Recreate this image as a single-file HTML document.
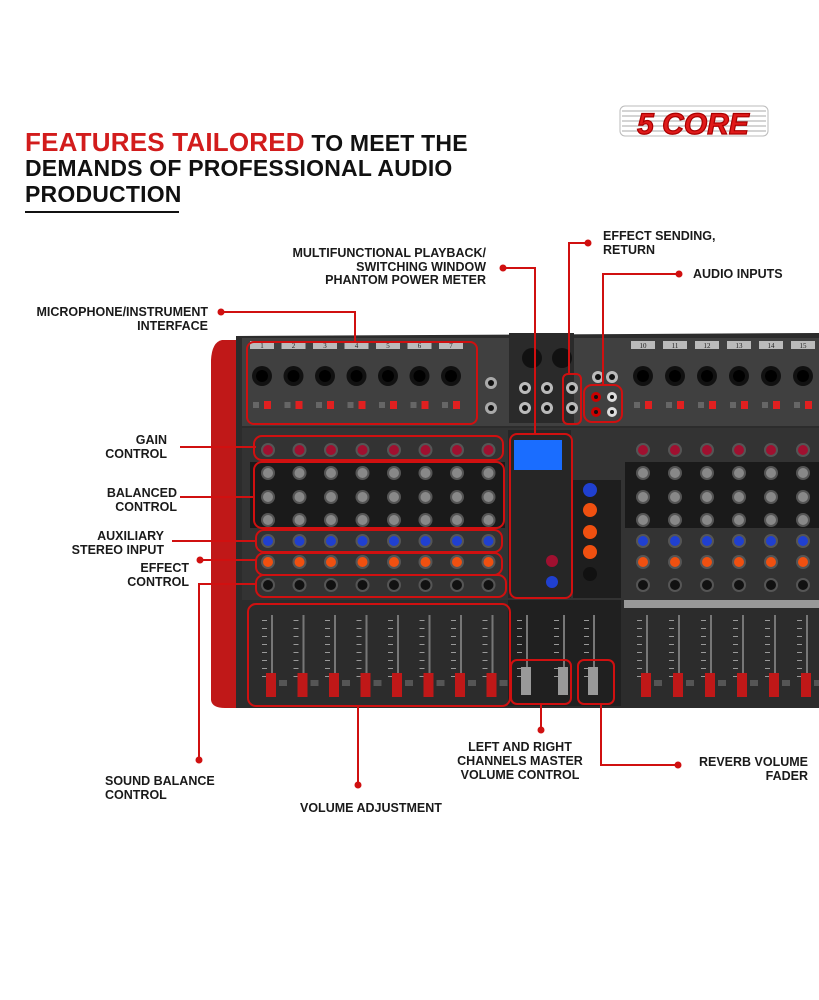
<!DOCTYPE html>
<html><head><meta charset="utf-8">
<style>
html,body{margin:0;padding:0;background:#fff}
#w{position:relative;width:819px;height:1000px;overflow:hidden;font-family:"Liberation Sans",sans-serif}
.h{position:absolute;left:25px;font-weight:bold;font-size:23px;line-height:26px;color:#111;white-space:nowrap;letter-spacing:0.2px}
.r{color:#d21c1c;font-size:26px;font-weight:900}
.l{position:absolute;font-weight:bold;font-size:12.5px;line-height:14px;color:#1a1a1a;white-space:nowrap}
.ra{text-align:right}
svg{position:absolute;left:0;top:0}
</style></head><body><div id="w">
<div class="h" style="top:129px"><span class="r">FEATURES TAILORED</span> TO MEET THE</div>
<div class="h" style="top:155px">DEMANDS OF PROFESSIONAL AUDIO</div>
<div class="h" style="top:181px">PRODUCTION</div>
<div style="position:absolute;left:25px;top:211px;width:154px;height:2px;background:#111"></div>

<svg width="819" height="1000" id="s" xmlns="http://www.w3.org/2000/svg">
<g id="logo">
<rect x="620" y="106" width="148" height="30" rx="5" fill="#fff" stroke="#bbb"/>
<g stroke="#aaa" stroke-width="1"><line x1="622" y1="111" x2="766" y2="111"/><line x1="622" y1="116" x2="766" y2="116"/><line x1="622" y1="121" x2="766" y2="121"/><line x1="622" y1="126" x2="766" y2="126"/><line x1="622" y1="131" x2="766" y2="131"/></g>
<text x="693" y="134" text-anchor="middle" font-family="Liberation Sans" font-weight="900" font-style="italic" font-size="30" fill="#e01a1a" stroke="#a00" stroke-width="1.2" style="font-weight:bold">5 CORE</text>
</g>
<path d="M222 340 Q212 342 211 360 L211 700 Q212 708 225 708 L240 708 L240 340 Z" fill="#c01818"/>
<path d="M236 336 L819 333 L819 708 L236 708 Z" fill="#2c2c2c"/>
<rect x="242" y="338" width="577" height="88" fill="#404040"/>
<rect x="242" y="428" width="577" height="172" fill="#333"/>
<rect x="250" y="462" width="255" height="66" fill="#1a1a1a"/>
<rect x="625" y="462" width="194" height="66" fill="#1a1a1a"/>
<rect x="508" y="430" width="63" height="168" fill="#262626"/>
<rect x="573" y="480" width="48" height="118" fill="#1e1e1e"/>
<rect x="508" y="600" width="113" height="106" fill="#202020"/>
<rect x="514" y="440" width="48" height="30" fill="#1a6dff"/>
<rect x="509" y="333" width="65" height="90" fill="#2a2a2a"/>
<g id="dyn"></g>
<g fill="none" stroke="#d01010" stroke-width="2">
<rect x="247" y="342" width="230" height="82" rx="7"/>
<rect x="254" y="436" width="249" height="24" rx="8"/>
<rect x="254" y="462" width="250" height="66" rx="8"/>
<rect x="256" y="530" width="246" height="22" rx="8"/>
<rect x="256" y="553" width="246" height="22" rx="8"/>
<rect x="256" y="575" width="250" height="22" rx="8"/>
<rect x="248" y="604" width="262" height="102" rx="8"/>
<rect x="510" y="434" width="62" height="164" rx="7"/>
<rect x="563" y="374" width="18" height="50" rx="5"/>
<rect x="584" y="385" width="38" height="37" rx="8"/>
<rect x="511" y="660" width="60" height="44" rx="6"/>
<rect x="578" y="660" width="36" height="44" rx="6"/>
</g>
<g stroke="#d01010" stroke-width="2" fill="none">
<polyline points="221,312 355,312 355,342"/>
<line x1="180" y1="447" x2="256" y2="447"/>
<line x1="180" y1="497" x2="254" y2="497"/>
<line x1="172" y1="541" x2="256" y2="541"/>
<line x1="200" y1="560" x2="256" y2="560"/>
<polyline points="256,584 199,584 199,760"/>
<line x1="358" y1="706" x2="358" y2="785"/>
<line x1="541" y1="704" x2="541" y2="730"/>
<polyline points="601,704 601,765 678,765"/>
<polyline points="503,268 535,268 535,434"/>
<polyline points="588,243 569,243 569,374"/>
<polyline points="679,274 603,274 603,385"/>
</g>
<g fill="#d01010">
<circle cx="221" cy="312" r="3.5"/><circle cx="200" cy="560" r="3.5"/><circle cx="199" cy="760" r="3.5"/>
<circle cx="358" cy="785" r="3.5"/><circle cx="541" cy="730" r="3.5"/><circle cx="678" cy="765" r="3.5"/>
<circle cx="503" cy="268" r="3.5"/><circle cx="588" cy="243" r="3.5"/><circle cx="679" cy="274" r="3.5"/>
</g>
</svg>

<div class="l ra" style="right:611px;top:305px">MICROPHONE/INSTRUMENT<br>INTERFACE</div>
<div class="l ra" style="right:652px;top:433px">GAIN<br>CONTROL</div>
<div class="l ra" style="right:642px;top:486px">BALANCED<br>CONTROL</div>
<div class="l ra" style="right:655px;top:529px">AUXILIARY<br>STEREO INPUT</div>
<div class="l ra" style="right:630px;top:561px">EFFECT<br>CONTROL</div>
<div class="l" style="left:105px;top:774px">SOUND BALANCE<br>CONTROL</div>
<div class="l" style="left:300px;top:801px">VOLUME ADJUSTMENT</div>
<div class="l" style="left:440px;top:740px;width:160px;text-align:center">LEFT AND RIGHT<br>CHANNELS MASTER<br>VOLUME CONTROL</div>
<div class="l ra" style="right:11px;top:755px">REVERB VOLUME<br>FADER</div>
<div class="l ra" style="right:333px;top:247px;line-height:13.5px">MULTIFUNCTIONAL PLAYBACK/<br>SWITCHING WINDOW<br>PHANTOM POWER METER</div>
<div class="l" style="left:603px;top:229px">EFFECT SENDING,<br>RETURN</div>
<div class="l" style="left:693px;top:267px">AUDIO INPUTS</div>

<script>
var g=document.getElementById('dyn'),h='';
function c(x,y,r,f){h+='<circle cx="'+x+'" cy="'+y+'" r="'+r+'" fill="'+f+'"/>';}
var L=[],R=[];
for(var i=0;i<8;i++)L.push(268+31.5*i);
for(var i=0;i<7;i++)R.push(643+32*i);
var T=[];for(var i=0;i<7;i++)T.push(262+31.5*i);for(var i=0;i<6;i++)T.push(643+32*i);
T.forEach(function(x,k){
 h+='<rect x="'+(x-12)+'" y="341" width="24" height="8" fill="#bbb"/>';
 h+='<text x="'+x+'" y="348" font-size="7" text-anchor="middle" fill="#222" font-family="Liberation Serif">'+(k<7?k+1:k+3)+'</text>';
 c(x,376,10,'#111');c(x,376,6,'#000');
 h+='<rect x="'+(x-9)+'" y="402" width="6" height="6" fill="#666"/><rect x="'+(x+2)+'" y="401" width="7" height="8" fill="#e02020"/>';
});
c(491,383,6,'#aaa');c(491,383,3,'#111');c(491,408,6,'#aaa');c(491,408,3,'#111');
[[532,358],[562,358]].forEach(function(p){c(p[0],p[1],10,'#111');});
[[525,388],[547,388],[525,408],[547,408],[572,388],[572,408],[598,377],[612,377]].forEach(function(p){c(p[0],p[1],6,'#bbb');c(p[0],p[1],3,'#111');});
[[596,397,'#c00'],[612,397,'#ddd'],[596,412,'#c00'],[612,412,'#ddd']].forEach(function(p){c(p[0],p[1],5,p[2]);c(p[0],p[1],2,'#111');});
function row(xs,y,f,r){xs.forEach(function(x){c(x,y,r+2,'#555');c(x,y,r,f);});}
var A=L.concat(R);
row(A,450,'#a01030',5);row(A,473,'#888',5);row(A,497,'#888',5);row(A,520,'#888',5);
row(A,541,'#2040d0',5);row(A,562,'#f05010',5);row(A,585,'#111',5);
[590,590,590,590,590].forEach(function(x,k){c(x,[490,510,532,552,574][k],7,k==0?'#2040d0':(k==4?'#111':'#f05010'));});
c(552,561,6,'#a01030');c(552,582,6,'#2040d0');
A.concat([523,560,590]).forEach(function(x){
 h+='<rect x="'+(x+3)+'" y="615" width="2" height="80" fill="#777"/>';
 for(var j=0;j<8;j++)h+='<rect x="'+(x-6)+'" y="'+(620+j*8)+'" width="5" height="1" fill="#999"/>';
});
A.forEach(function(x){h+='<rect x="'+(x-2)+'" y="673" width="10" height="24" fill="#c01818"/><rect x="'+(x+11)+'" y="680" width="8" height="6" fill="#555"/>';});
[523,560,590].forEach(function(x){h+='<rect x="'+(x-2)+'" y="667" width="10" height="28" fill="#999"/>';});
h+='<rect x="624" y="600" width="195" height="8" fill="#999"/>';
g.innerHTML=h;
</script>
</div></body></html>
